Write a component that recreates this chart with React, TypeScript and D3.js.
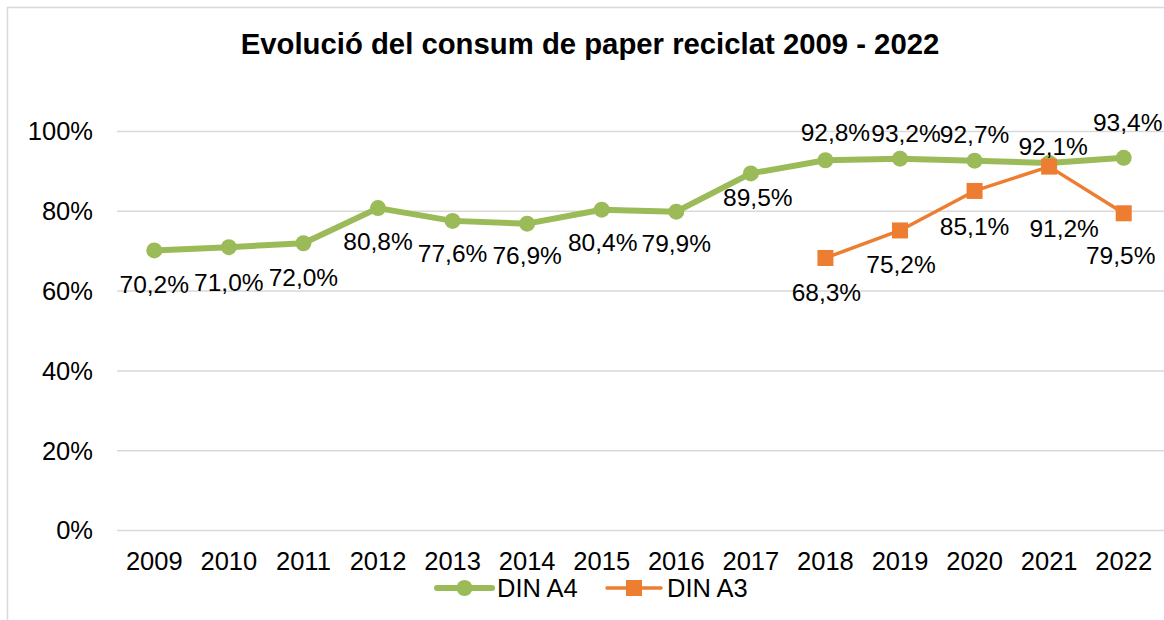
import React from "react";
import * as d3 from "d3";

const years = ["2009", "2010", "2011", "2012", "2013", "2014", "2015", "2016", "2017", "2018", "2019", "2020", "2021", "2022"];
const dinA4 = [70.2, 71.0, 72.0, 80.8, 77.6, 76.9, 80.4, 79.9, 89.5, 92.8, 93.2, 92.7, 92.1, 93.4];
const dinA3: (number | null)[] = [null, null, null, null, null, null, null, null, null, 68.3, 75.2, 85.1, 91.2, 79.5];
const yTicks = [0, 20, 40, 60, 80, 100];

// label placement, as in the source chart (some labels were dragged by hand)
const a4LabelShift: [number, number][] = [
  [0, 34], [0, 35], [0, 34], [0, 33], [0, 33], [0, 32], [1, 33], [0, 32], [7, 24],
  [10, -28], [6, -25], [0, -26], [4, -17], [4, -35],
];
const a3LabelShift: [number, number][] = [
  [0, 0], [0, 0], [0, 0], [0, 0], [0, 0], [0, 0], [0, 0], [0, 0], [0, 0],
  [1, 34], [1, 34], [0, 35], [15, 62], [-3, 42],
];

const W = 1164;
const H = 620;
const green = "#9BBB59";
const orange = "#ED7D31";
const font = "'Liberation Sans', Arial, sans-serif";
const axisSize = 25.5;
const labelSize = 24.5;
const fmt = (v: number) => v.toFixed(1).replace(".", ",") + "%";

export default function App() {
  const x = d3.scaleBand<string>().domain(years).range([117, 1161]).padding(0);
  const cx = (y: string) => (x(y) ?? 0) + x.bandwidth() / 2;
  const y = d3.scaleLinear().domain([0, 100]).range([530.5, 131.5]);

  const line = d3
    .line<number | null>()
    .defined((d) => d !== null)
    .x((_, i) => cx(years[i]))
    .y((d) => y(d as number));

  return (
    <svg
      width={W}
      height={H}
      style={{ position: "absolute", left: 0, top: 0, background: "#fff" }}
      fontFamily={font}
    >
      <rect x={7.5} y={7.5} width={W + 20} height={H + 20} fill="#fff" stroke="#d9d9d9" strokeWidth={1.5} />

      <text x={590} y={54} textAnchor="middle" fontSize={29.3} fontWeight="bold" fill="#000">
        Evolució del consum de paper reciclat 2009 - 2022
      </text>

      {yTicks.map((t) => (
        <g key={t}>
          <line x1={117} x2={1164} y1={y(t)} y2={y(t)} stroke="#d9d9d9" strokeWidth={1.5} />
          <text x={93} y={y(t)} dy="0.35em" textAnchor="end" fontSize={axisSize} fill="#000">
            {t}%
          </text>
        </g>
      ))}

      {years.map((yr) => (
        <text key={yr} x={cx(yr)} y={570} textAnchor="middle" fontSize={axisSize} fill="#000">
          {yr}
        </text>
      ))}

      <path d={line(dinA4) ?? ""} fill="none" stroke={green} strokeWidth={6} strokeLinejoin="round" />
      {dinA4.map((v, i) => (
        <circle key={i} cx={cx(years[i])} cy={y(v)} r={8} fill={green} />
      ))}

      <path d={line(dinA3) ?? ""} fill="none" stroke={orange} strokeWidth={3.5} strokeLinejoin="round" />
      {dinA3.map((v, i) =>
        v === null ? null : (
          <rect key={i} x={cx(years[i]) - 8} y={y(v) - 8} width={16} height={16} fill={orange} />
        )
      )}

      {dinA4.map((v, i) => (
        <text
          key={"la4" + i}
          x={cx(years[i]) + a4LabelShift[i][0]}
          y={y(v) + a4LabelShift[i][1]}
          dy="0.35em"
          textAnchor="middle"
          fontSize={labelSize}
          fill="#000"
        >
          {fmt(v)}
        </text>
      ))}
      {dinA3.map((v, i) =>
        v === null ? null : (
          <text
            key={"la3" + i}
            x={cx(years[i]) + a3LabelShift[i][0]}
            y={y(v) + a3LabelShift[i][1]}
            dy="0.35em"
            textAnchor="middle"
            fontSize={labelSize}
            fill="#000"
          >
            {fmt(v)}
          </text>
        )
      )}

      {/* legend */}
      <g>
        <line x1={437} x2={492} y1={588} y2={588} stroke={green} strokeWidth={6} strokeLinecap="round" />
        <circle cx={464.5} cy={588} r={8} fill={green} />
        <text x={497} y={597} fontSize={axisSize} fill="#000">DIN A4</text>
        <line x1={607} x2={661} y1={588} y2={588} stroke={orange} strokeWidth={3.5} strokeLinecap="round" />
        <rect x={626} y={580} width={16} height={16} fill={orange} />
        <text x={667} y={597} fontSize={axisSize} fill="#000">DIN A3</text>
      </g>
    </svg>
  );
}
